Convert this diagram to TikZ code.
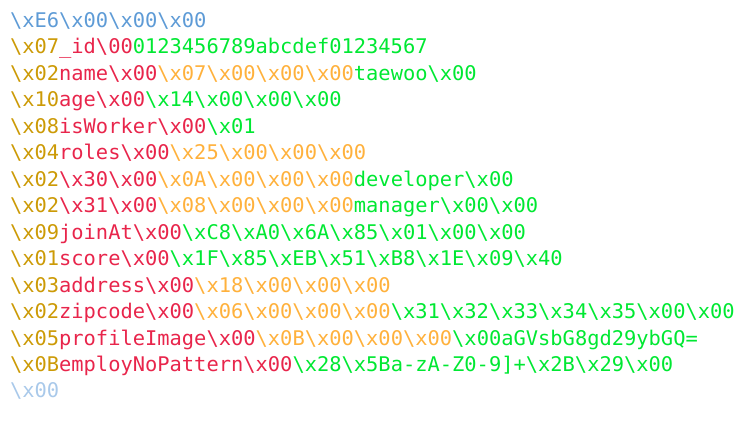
\documentclass[tikz,border=0pt]{standalone}
\usepackage{fontspec}
\newfontfamily\codefont{DejaVu Sans Mono}[FakeStretch=1.01]
\definecolor{cblue}{HTML}{5E9BD6}
\definecolor{clblue}{HTML}{A9C9EA}
\definecolor{cgold}{HTML}{CC9A06}
\definecolor{cred}{HTML}{E8254B}
\definecolor{corange}{HTML}{FFB13C}
\definecolor{cgreen}{HTML}{00E832}
\newcommand\hx[1]{\textbackslash x#1}
\newcommand\B[1]{\textcolor{cblue}{#1}}
\newcommand\LB[1]{\textcolor{clblue}{#1}}
\newcommand\G[1]{\textcolor{cgold}{#1}}
\newcommand\R[1]{\textcolor{cred}{#1}}
\newcommand\Or[1]{\textcolor{corange}{#1}}
\newcommand\Gr[1]{\textcolor{cgreen}{#1}}
\begin{document}
\begin{tikzpicture}[x=1pt,y=1pt,
  codeline/.style={anchor=base west,inner sep=0pt,outer sep=0pt,
    font=\codefont\fontsize{20.2}{24}\selectfont}]
\useasboundingbox (0,0) rectangle (747,434);
\def\lx{10}
\def\ly{406.5}
\def\dy{26.46}
\node[codeline] (l1) at (\lx,\ly) {\B{\hx{E6}\hx{00}\hx{00}\hx{00}}};
\node[codeline] (l2) at (\lx,\ly-\dy) {\G{\hx{07}}\R{\_id\textbackslash 00}\Gr{0123456789abcdef01234567}};
\node[codeline] (l3) at (\lx,\ly-2*\dy) {\G{\hx{02}}\R{name\hx{00}}\Or{\hx{07}\hx{00}\hx{00}\hx{00}}\Gr{taewoo\hx{00}}};
\node[codeline] (l4) at (\lx,\ly-3*\dy) {\G{\hx{10}}\R{age\hx{00}}\Gr{\hx{14}\hx{00}\hx{00}\hx{00}}};
\node[codeline] (l5) at (\lx,\ly-4*\dy) {\G{\hx{08}}\R{isWorker\hx{00}}\Gr{\hx{01}}};
\node[codeline] (l6) at (\lx,\ly-5*\dy) {\G{\hx{04}}\R{roles\hx{00}}\Or{\hx{25}\hx{00}\hx{00}\hx{00}}};
\node[codeline] (l7) at (\lx,\ly-6*\dy) {\G{\hx{02}}\R{\hx{30}\hx{00}}\Or{\hx{0A}\hx{00}\hx{00}\hx{00}}\Gr{developer\hx{00}}};
\node[codeline] (l8) at (\lx,\ly-7*\dy) {\G{\hx{02}}\R{\hx{31}\hx{00}}\Or{\hx{08}\hx{00}\hx{00}\hx{00}}\Gr{manager\hx{00}\hx{00}}};
\node[codeline] (l9) at (\lx,\ly-8*\dy) {\G{\hx{09}}\R{joinAt\hx{00}}\Gr{\hx{C8}\hx{A0}\hx{6A}\hx{85}\hx{01}\hx{00}\hx{00}}};
\node[codeline] (l10) at (\lx,\ly-9*\dy) {\G{\hx{01}}\R{score\hx{00}}\Gr{\hx{1F}\hx{85}\hx{EB}\hx{51}\hx{B8}\hx{1E}\hx{09}\hx{40}}};
\node[codeline] (l11) at (\lx,\ly-10*\dy) {\G{\hx{03}}\R{address\hx{00}}\Or{\hx{18}\hx{00}\hx{00}\hx{00}}};
\node[codeline] (l12) at (\lx,\ly-11*\dy) {\G{\hx{02}}\R{zipcode\hx{00}}\Or{\hx{06}\hx{00}\hx{00}\hx{00}}\Gr{\hx{31}\hx{32}\hx{33}\hx{34}\hx{35}\hx{00}\hx{00}}};
\node[codeline] (l13) at (\lx,\ly-12*\dy) {\G{\hx{05}}\R{profileImage\hx{00}}\Or{\hx{0B}\hx{00}\hx{00}\hx{00}}\Gr{\hx{00}aGVsbG8gd29ybGQ=}};
\node[codeline] (l14) at (\lx,\ly-13*\dy) {\G{\hx{0B}}\R{employNoPattern\hx{00}}\Gr{\hx{28}\hx{5B}a-zA-Z0-9]+\hx{2B}\hx{29}\hx{00}}};
\node[codeline] (l15) at (\lx,\ly-14*\dy) {\LB{\hx{00}}};
\end{tikzpicture}
\end{document}
